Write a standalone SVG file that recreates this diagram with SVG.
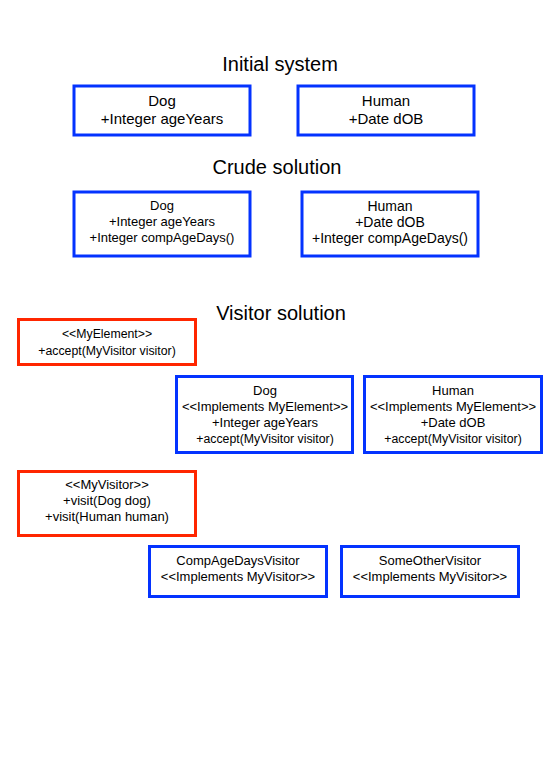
<svg xmlns="http://www.w3.org/2000/svg" width="559" height="782" viewBox="0 0 559 782">
<style>
text{font-family:"Liberation Sans",Arial,Helvetica,sans-serif;fill:#000;text-anchor:middle}
.title{font-size:20px}
.b{fill:#fff;stroke:#0433ff;stroke-width:3}
.r{fill:#fff;stroke:#ff2600;stroke-width:3}
.t15{font-size:15px}
.t14{font-size:14px}
.t13{font-size:13px}
.t12{font-size:12.3px}
</style>
<rect width="559" height="782" fill="#fff"/>
<text class="title" x="280" y="71">Initial system</text>
<text class="title" x="277" y="174">Crude solution</text>
<text class="title" x="281" y="320">Visitor solution</text>
<g id="dog1"><rect class="b" x="74" y="86" width="176" height="49"/><text class="t15" x="162" y="106">Dog</text><text class="t15" x="162" y="124">+Integer ageYears</text></g>
<g id="human1"><rect class="b" x="298" y="86" width="176" height="49"/><text class="t15" x="386" y="106">Human</text><text class="t15" x="386" y="124">+Date dOB</text></g>
<g id="dog2"><rect class="b" x="74" y="192" width="176" height="64"/><text class="t13" x="162" y="210">Dog</text><text class="t13" x="162" y="226">+Integer ageYears</text><text class="t13" x="162" y="242">+Integer compAgeDays()</text></g>
<g id="human2"><rect class="b" x="302" y="192" width="176" height="64"/><text class="t14" x="390" y="211">Human</text><text class="t14" x="390" y="227">+Date dOB</text><text class="t14" x="390" y="243">+Integer compAgeDays()</text></g>
<g id="myelement"><rect class="r" x="18.5" y="319.5" width="177" height="45"/><text class="t12" x="107" y="338">&lt;&lt;MyElement&gt;&gt;</text><text class="t12" x="107" y="355">+accept(MyVisitor visitor)</text></g>
<g id="dog3"><rect class="b" x="176.5" y="376.5" width="176" height="76"/><text class="t13" x="265" y="395">Dog</text><text class="t13" x="265" y="411">&lt;&lt;Implements MyElement&gt;&gt;</text><text class="t13" x="265" y="427">+Integer ageYears</text><text class="t12" x="265" y="443">+accept(MyVisitor visitor)</text></g>
<g id="human3"><rect class="b" x="364.5" y="376.5" width="177" height="76"/><text class="t13" x="453" y="395">Human</text><text class="t13" x="453" y="411">&lt;&lt;Implements MyElement&gt;&gt;</text><text class="t13" x="453" y="427">+Date dOB</text><text class="t12" x="453" y="443">+accept(MyVisitor visitor)</text></g>
<g id="myvisitor"><rect class="r" x="18.5" y="471.5" width="177" height="64"/><text class="t13" x="107" y="489">&lt;&lt;MyVisitor&gt;&gt;</text><text class="t13" x="107" y="505">+visit(Dog dog)</text><text class="t13" x="107" y="521">+visit(Human human)</text></g>
<g id="compagedays"><rect class="b" x="149.5" y="546.5" width="177" height="50"/><text class="t13" x="238" y="565">CompAgeDaysVisitor</text><text class="t13" x="238" y="581">&lt;&lt;Implements MyVisitor&gt;&gt;</text></g>
<g id="someother"><rect class="b" x="341.5" y="546.5" width="177" height="50"/><text class="t13" x="430" y="565">SomeOtherVisitor</text><text class="t13" x="430" y="581">&lt;&lt;Implements MyVisitor&gt;&gt;</text></g>
<g id="connectors"/>
</svg>
